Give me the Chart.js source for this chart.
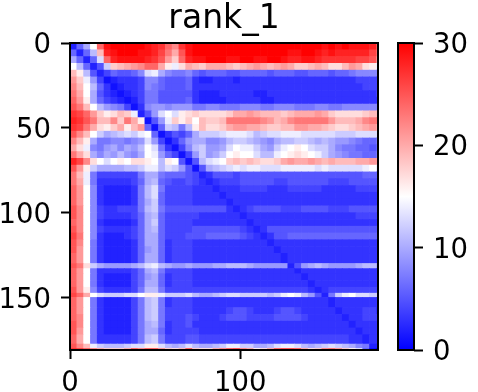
<!DOCTYPE html>
<html>
<head>
<meta charset="utf-8">
<style>
  body { margin: 0; background: #fff; width: 478px; height: 392px; overflow: hidden; position: relative; }
  canvas { position: absolute; top: 0; }
  #pae { left: 0; }
  #cbar { left: 390px; }
</style>
<script src="https://cdn.jsdelivr.net/npm/chart.js@4"></script>
</head>
<body>
<canvas id="pae" width="448" height="392"></canvas>
<canvas id="cbar" width="88" height="392"></canvas>
<script>
const TITLE = 'rank_1'
const RESIDUES = 181 // axis end
const CELL = 4 // residues per column
const COLOR_RANGE = [0, 30]

// residue where each row of paeRows starts, the two light stripes get thin rows of their own
const rowStarts = [0,4,8,12,16,20,24,28,32,36,40,44,48,52,56,60,64,68,72,76,80,84,88,92,96,100,104,108,112,116,120,124,130,133,136,140,144,147.5,150,156,160,164,168,172,177.5,180,181]

// error values, last column is the 181st residue
const paeRows = [
  [2,6,10,15,24, 29,30,30,30,30, 30,29,28,27,24, 22,27,29,30,30, 30,30,30,30,30, 30,30,30,30,30, 30,30,30,30,30, 30,30,29,30,29, 30,29,29,29,28, 25],
  [6,2,6,11,19, 28,29,30,30,30, 29,29,28,26,23, 20,25,29,30,30, 30,30,30,30,30, 30,30,30,30,30, 30,30,29,29,30, 30,29,28,29,28, 28,28,28,28,26, 24],
  [10,6,2,6,13, 24,28,29,29,29, 29,28,27,25,21, 18,24,28,29,29, 30,30,30,29,29, 30,30,29,29,30, 30,29,28,28,29, 29,28,27,27,27, 27,27,26,26,25, 22],
  [15,11,6,2,5, 12,18,19,20,21, 22,24,24,20,16, 14,17,20,19,18, 20,20,20,19,18, 19,20,21,20,19, 20,21,20,18,18, 19,20,19,17,17, 19,21,20,17,16, 14],
  [19,16,11,5,2, 4,6,5,5,6, 8,13,14,10,8, 7,7,8,6,5, 6,6,6,5,5, 6,6,6,6,5, 6,6,6,5,5, 6,6,6,5,6, 6,7,8,8,8, 8],
  [21,18,14,9,4, 1,2,3,3,3, 4,8,8,6,5, 5,5,6,3,2, 2,3,3,3,2, 3,3,3,3,3, 3,3,3,3,3, 3,3,3,3,3, 3,3,4,4,4, 4],
  [22,19,15,11,6, 3,1,2,3,3, 4,8,7,6,5, 5,5,6,3,3, 3,3,3,3,3, 3,3,3,3,3, 3,3,3,3,3, 3,3,3,3,3, 3,3,3,4,4, 4],
  [23,20,15,10,5, 3,2,1,2,3, 4,7,7,5,5, 5,5,5,3,2, 2,2,3,3,3, 3,3,2,2,3, 3,3,3,3,3, 3,3,3,3,3, 3,3,3,3,3, 4],
  [24,21,16,10,6, 4,3,2,1,2, 4,7,7,5,5, 5,5,6,3,2, 2,2,2,3,3, 3,3,3,2,2, 3,3,3,3,3, 3,3,3,3,3, 3,3,3,3,3, 3],
  [25,23,19,15,11, 9,8,7,4,1, 3,8,9,9,8, 9,9,9,7,7, 8,8,7,7,7, 8,8,8,7,7, 8,8,8,7,7, 7,8,8,7,7, 8,8,8,8,8, 8],
  [27,26,24,21,18, 16,17,19,18,14, 2,5,9,13,15, 13,16,17,18,17, 17,17,17,18,20, 20,21,20,19,19, 19,18,19,20,20, 20,21,20,18,17, 17,17,17,18,19, 19],
  [28,27,25,23,19, 19,22,18,23,20, 16,1,5,9,14, 18,16,18,15,19, 18,18,19,23,23, 23,23,23,22,21, 19,20,22,23,23, 23,23,23,21,19, 19,19,20,22,23, 23],
  [27,26,23,20,17, 16,18,20,16,19, 21,6,1,6,12, 11,7,11,16,19, 17,17,18,20,21, 21,20,20,19,18, 18,19,19,21,21, 20,20,19,18,17, 17,18,19,20,21, 20],
  [25,22,19,15,12, 10,11,12,13,12, 14,15,6,1,3, 5,4,6,10,12, 12,12,13,14,14, 14,13,11,12,13, 13,14,14,14,13, 13,13,13,13,12, 12,12,13,13,13, 13],
  [22,19,16,10,7, 7,8,8,7,8, 9,13,9,4,1, 3,6,9,10,10, 8,8,9,11,12, 12,11,10,9,8, 10,11,11,12,12, 11,10,11,10,9, 9,8,7,6,6, 7],
  [20,17,14,8,7, 9,10,8,10,9, 11,15,13,7,3, 1,4,8,11,12, 9,9,10,13,15, 14,14,12,10,9, 12,14,15,16,15, 13,12,12,10,8, 7,7,6,6,5, 6],
  [23,20,17,10,8, 10,9,11,9,8, 10,15,14,9,6, 4,1,4,9,12, 9,10,12,15,16, 15,15,13,11,11, 14,15,16,17,16, 15,14,12,10,9, 8,7,7,6,6, 7],
  [28,26,22,17,15, 13,15,16,15,17, 17,16,15,11,16, 15,5,1,5,11, 13,14,15,18,19, 18,19,18,17,17, 18,20,21,20,20, 21,20,19,20,19, 19,19,20,20,21, 21],
  [25,21,16,12,10, 10,10,10,11,11, 12,14,14,11,13, 12,9,5,1,5, 10,11,12,13,14, 13,14,14,13,13, 13,14,14,14,14, 14,13,14,13,13, 13,13,13,14,15, 14],
  [23,19,14,7,4, 4,4,4,4,4, 7,10,10,7,6, 6,6,5,4,2, 3,5,5,5,4, 5,5,5,5,5, 5,5,5,5,5, 5,5,5,5,5, 5,5,5,6,6, 6],
  [23,20,14,7,3, 3,3,3,3,4, 6,10,11,6,5, 4,4,5,4,3, 2,3,4,4,4, 5,5,5,5,5, 4,4,5,5,5, 5,5,5,4,4, 4,5,5,5,5, 5],
  [24,21,15,8,3, 2,2,2,2,3, 7,11,13,7,4, 4,4,4,3,3, 3,2,3,3,3, 4,4,4,4,3, 3,3,4,4,4, 4,4,3,3,3, 3,3,4,4,4, 4],
  [24,21,15,8,3, 2,2,2,2,3, 7,11,13,6,4, 4,4,4,3,3, 3,3,2,3,3, 3,3,3,3,3, 3,3,3,3,3, 3,3,3,3,3, 3,3,3,3,3, 3],
  [24,21,15,8,3, 2,2,2,2,3, 7,10,12,6,4, 4,4,4,3,3, 3,3,3,2,3, 3,3,3,3,3, 3,3,3,3,3, 3,3,3,3,3, 3,3,3,3,3, 3],
  [25,22,15,8,4, 3,3,4,4,4, 7,11,12,7,5, 5,5,5,5,5, 5,5,5,3,2, 3,4,5,5,5, 5,4,4,4,5, 5,5,5,4,4, 4,5,5,5,5, 5],
  [25,22,15,8,4, 3,3,3,3,4, 6,10,11,6,4, 4,4,4,4,3, 3,3,3,3,3, 2,3,3,3,3, 3,3,3,3,3, 3,3,3,3,3, 3,3,4,4,4, 4],
  [24,22,15,8,3, 2,2,2,2,3, 6,10,12,6,4, 4,4,4,3,3, 3,3,3,3,3, 3,2,3,3,3, 3,3,3,3,3, 3,3,3,3,3, 3,3,3,3,3, 3],
  [25,22,15,8,4, 3,3,3,3,4, 6,10,11,6,4, 4,4,4,5,5, 5,5,5,5,5, 4,3,2,3,5, 5,5,5,5,5, 5,5,5,5,5, 5,5,5,5,5, 5],
  [26,23,15,8,3, 2,2,2,3,4, 6,10,10,6,4, 4,4,5,5,5, 6,6,6,6,6, 5,4,3,2,3, 5,5,6,6,6, 6,6,6,6,6, 6,6,6,6,6, 6],
  [25,22,15,7,3, 2,2,2,2,3, 6,10,10,6,3, 4,4,4,3,3, 3,3,3,3,3, 3,3,3,3,2, 3,3,3,3,3, 3,3,3,3,3, 3,3,3,3,3, 3],
  [25,21,15,7,3, 2,2,2,2,3, 6,9,10,6,3, 4,4,4,3,3, 3,3,3,3,3, 3,3,3,3,3, 2,3,3,3,3, 3,3,3,3,3, 3,3,3,3,3, 3],
  [24,21,15,7,3, 2,2,2,2,3, 6,10,10,6,3, 4,4,4,3,3, 3,3,3,3,3, 3,3,3,3,3, 3,2,3,3,3, 3,3,3,3,3, 3,3,3,3,3, 3],
  [25,23,17,12,10, 9,9,9,9,10, 11,13,14,11,10, 9,9,10,9,9, 9,10,10,11,11, 11,10,9,9,9, 9,9,2,5,9, 10,11,10,9,9, 9,9,10,11,11, 10],
  [24,21,15,7,3, 3,3,3,3,4, 6,10,11,7,4, 4,4,4,3,3, 3,3,3,3,3, 3,3,3,3,3, 3,3,3,2,3, 3,3,3,3,3, 3,3,3,3,3, 3],
  [24,21,15,7,3, 2,2,2,2,4, 6,9,10,6,3, 4,4,4,3,3, 3,3,3,3,3, 3,3,3,3,3, 3,3,3,3,2, 3,3,3,3,3, 3,3,3,3,3, 3],
  [24,21,15,7,3, 2,2,2,2,4, 6,10,10,6,3, 4,4,4,3,3, 3,3,3,3,3, 3,3,3,3,3, 3,3,3,3,3, 2,3,3,3,3, 3,3,3,3,3, 3],
  [25,21,16,8,4, 3,3,3,3,4, 7,11,11,7,4, 4,4,4,4,4, 4,4,4,4,4, 4,4,4,4,4, 4,4,4,4,4, 3,2,3,4,4, 4,4,4,4,4, 4],
  [26,24,20,15,13, 12,12,12,13,13, 15,16,16,14,12, 12,12,13,11,10, 10,11,12,13,13, 12,12,12,12,11, 12,14,15,14,11, 9,5,2,7,12, 14,15,13,13,12, 12],
  [24,21,15,7,3, 2,2,2,2,4, 7,11,12,7,3, 4,4,4,3,3, 3,3,3,3,3, 3,3,3,3,3, 3,3,3,3,3, 3,3,3,2,3, 3,3,3,3,3, 3],
  [24,21,15,7,3, 2,2,2,2,4, 7,11,12,7,4, 4,4,4,3,3, 3,3,3,4,5, 5,4,3,3,3, 4,5,5,4,3, 3,3,3,3,2, 3,3,3,4,4, 3],
  [24,22,15,7,3, 2,2,2,2,4, 7,11,12,7,4, 4,4,5,4,3, 3,3,4,5,5, 5,4,4,4,4, 5,5,5,5,4, 3,3,3,3,3, 2,3,3,4,4, 4],
  [25,22,15,7,3, 2,2,2,2,4, 7,10,11,7,3, 4,4,5,3,3, 3,3,3,3,3, 3,3,3,3,3, 3,3,3,3,3, 3,3,3,3,3, 3,2,3,3,3, 3],
  [25,21,15,7,3, 2,2,2,2,4, 7,10,10,6,3, 4,4,4,4,3, 3,3,3,3,3, 3,3,3,3,3, 3,3,3,3,3, 3,3,3,3,3, 3,3,2,3,3, 3],
  [24,20,15,7,3, 3,3,3,3,4, 7,11,12,7,4, 4,4,5,5,4, 4,4,4,4,4, 4,4,4,4,4, 4,4,4,4,4, 4,4,4,4,4, 4,3,3,2,3, 3],
  [25,22,19,14,12, 11,11,11,12,13, 13,16,16,13,11, 10,11,13,11,10, 10,11,12,14,14, 12,12,10,10,11, 13,14,14,13,11, 10,11,12,13,12, 11,10,8,7,2, 2],
  [27,26,24,22,20, 18,18,18,20,24, 22,24,24,21,18, 17,19,24,18,17, 17,20,22,24,25, 22,20,16,17,20, 24,25,25,24,20, 17,18,22,23,21, 18,16,13,6,1, 0]
]

// bwr colormap
const bwr = (v) => {
  const t = (v - COLOR_RANGE[0]) / (COLOR_RANGE[1] - COLOR_RANGE[0])
  if (t < 0.5) {
    const c = Math.round(t * 2 * 255)
    return `rgb(${c},${c},255)`
  }
  const c = Math.round((1 - t) * 2 * 255)
  return `rgb(255,${c},${c})`
}

const cells = []
paeRows.forEach((row, r) => {
  row.forEach((v, c) => {
    cells.push({ x: c * CELL + CELL / 2, y: [rowStarts[r], rowStarts[r + 1]], v: v })
  })
})

const tickFont = { family: 'DejaVu Sans', size: 27.5 }

// top and right spines, chart.js only draws one border per axis
const frame = {
  id: 'frame',
  afterDraw: (chart) => {
    const a = chart.chartArea
    const c = chart.ctx
    c.save()
    c.strokeStyle = '#000'
    c.lineWidth = 2
    c.strokeRect(a.left, a.top, a.right - a.left, a.bottom - a.top)
    c.restore()
  }
}

const axisGrid = { display: true, drawOnChartArea: false, tickLength: 9, tickColor: '#000', tickWidth: 2 }

new Chart(document.getElementById('pae'), {
  type: 'bar',
  data: {
    datasets: [{
      data: cells,
      backgroundColor: (ctx) => ctx.raw ? bwr(ctx.raw.v) : '#fff',
      borderWidth: 0,
      barPercentage: 1,
      categoryPercentage: 1
    }]
  },
  options: {
    responsive: false,
    animation: false,
    layout: { padding: { right: 70, top: 0, left: 0, bottom: 0 } },
    plugins: {
      legend: { display: false },
      tooltip: { enabled: false },
      title: {
        display: true,
        fullSize: false,
        text: TITLE,
        color: '#000',
        font: { family: 'DejaVu Sans', size: 33, weight: 'normal' },
        padding: { top: 0, bottom: 3.4 }
      }
    },
    scales: {
      x: {
        type: 'linear',
        offset: false,
        min: 0,
        max: RESIDUES,
        grid: { ...axisGrid, offset: false },
        border: { display: false },
        ticks: { stepSize: 100, includeBounds: false, font: tickFont, color: '#000', padding: 8, maxRotation: 0 },
        afterFit: (s) => { s.height = 42 }
      },
      y: {
        type: 'linear',
        reverse: true,
        min: 0,
        max: RESIDUES,
        grid: axisGrid,
        border: { display: false },
        ticks: { stepSize: 50, includeBounds: false, font: tickFont, color: '#000', padding: 10, labelOffset: 3 },
        afterFit: (s) => { s.width = 70 }
      }
    }
  },
  plugins: [frame]
})

new Chart(document.getElementById('cbar'), {
  type: 'bar',
  data: {
    labels: [''],
    datasets: [{
      data: [COLOR_RANGE],
      backgroundColor: (ctx) => {
        const a = ctx.chart.chartArea
        if (!a) return '#fff'
        const g = ctx.chart.ctx.createLinearGradient(0, a.bottom, 0, a.top)
        g.addColorStop(0, 'rgb(0,0,255)')
        g.addColorStop(0.5, 'rgb(255,255,255)')
        g.addColorStop(1, 'rgb(255,0,0)')
        return g
      },
      borderWidth: 0,
      barPercentage: 1,
      categoryPercentage: 1
    }]
  },
  options: {
    responsive: false,
    animation: false,
    layout: { padding: { left: 8, top: 43, bottom: 42, right: 0 } },
    plugins: { legend: { display: false }, tooltip: { enabled: false } },
    scales: {
      x: { display: false },
      y: {
        position: 'right',
        min: COLOR_RANGE[0],
        max: COLOR_RANGE[1],
        grid: axisGrid,
        border: { display: false },
        ticks: { stepSize: 10, font: tickFont, color: '#000', padding: 10, labelOffset: 3 },
        afterFit: (s) => { s.width = 64 }
      }
    }
  },
  plugins: [frame]
})
</script>
</body>
</html>
